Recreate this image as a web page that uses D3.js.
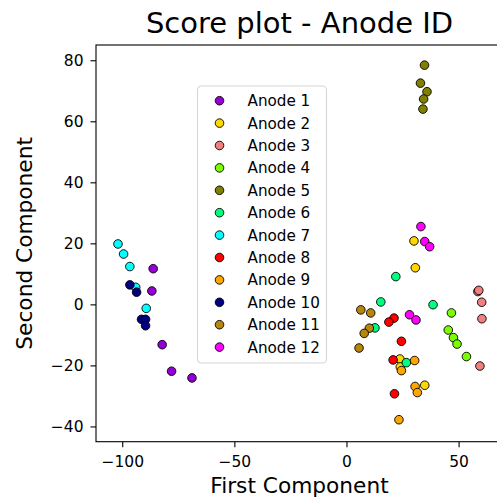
<!DOCTYPE html>
<html>
<head>
<meta charset="utf-8">
<script src="https://cdn.jsdelivr.net/npm/d3@7"></script>
<style>
  body { margin: 0; background: #fff; }
  svg { font-family: "DejaVu Sans", sans-serif; display: block; }
</style>
</head>
<body>
<div id="chart"></div>
<script>
// Anode labels and marker colours
const anodes = ["Anode 1", "Anode 2", "Anode 3", "Anode 4", "Anode 5", "Anode 6",
                "Anode 7", "Anode 8", "Anode 9", "Anode 10", "Anode 11", "Anode 12"];
const colors = ["#9400d3", "#ffd700", "#f08080", "#7cfc00", "#808000", "#00ff7f",
                "#00ffff", "#ff0000", "#ffa500", "#000080", "#b8860b", "#ff00ff"];

// First component scores, one list per anode
const firstComp = [
  [-86.2, -86.8, -82.2, -78.0, -68.9],
  [30.1, 30.7, 23.8, 24.0, 34.9],
  [58.6, 59.0, 60.3, 60.4, 59.5],
  [46.8, 45.4, 47.7, 49.3, 53.5],
  [34.8, 33.0, 35.9, 34.4, 34.1],
  [22.0, 15.3, 38.6, 12.7, 26.7],
  [-101.9, -99.4, -96.6, -94.0, -89.3],
  [21.2, 18.9, 24.5, 20.8, 21.4],
  [30.4, 24.5, 30.6, 31.6, 23.4],
  [-96.6, -93.6, -91.4, -89.6, -89.6],
  [6.4, 10.8, 10.2, 7.9, 5.6],
  [33.2, 34.9, 37.1, 28.1, 31.0]
];
// Second component scores, one list per anode
const secondComp = [
  [11.7, 4.4, -13.2, -21.9, -24.1],
  [20.8, 12.0, -17.9, -20.5, -26.5],
  [4.2, 4.6, 0.7, -4.7, -20.2],
  [-2.8, -8.4, -10.9, -13.0, -17.1],
  [78.4, 72.5, 69.7, 67.3, 64.0],
  [9.1, 0.8, -0.1, -7.7, -19.1],
  [19.8, 16.5, 12.4, 5.6, -1.3],
  [-4.5, -5.8, -12.1, -18.2, -29.3],
  [-18.4, -21.7, -26.9, -28.9, -37.8],
  [6.4, 4.0, -4.9, -4.9, -7.0],
  [-1.8, -2.8, -7.8, -9.5, -14.3],
  [25.5, 20.6, 18.9, -3.4, -5.1]
];
const xTicks = [-100, -50, 0, 50];
const yTicks = [-40, -20, 0, 20, 40, 60, 80];

const width = 497, height = 501;
const mLeft = 96, mRight = 503, mTop = 45, mBottom = 441.7;

const svg = d3.select("#chart").append("svg")
    .attr("width", width)
    .attr("height", height);

const x = d3.scaleLinear().domain([-111.7, 69.8]).range([mLeft, mRight]);
const y = d3.scaleLinear().domain([-45, 85]).range([mBottom, mTop]);

// points
let pts = [];
anodes.forEach((a, i) => {
    firstComp[i].forEach((v, j) => pts.push({x: v, y: secondComp[i][j], c: colors[i]}));
});
svg.append("g").selectAll("circle")
    .data(pts)
    .join("circle")
    .attr("cx", d => x(d.x))
    .attr("cy", d => y(d.y))
    .attr("r", 4.3)
    .attr("fill", d => d.c)
    .attr("stroke", "#000")
    .attr("stroke-width", 0.9);

// axes
let minus = d => d3.format("")(d).replace("-", "\u2212");
let xAxis = svg.append("g")
    .attr("transform", `translate(0,${mBottom})`)
    .call(d3.axisBottom(x).tickValues(xTicks).tickSize(5.5).tickPadding(9).tickFormat(minus));
let yAxis = svg.append("g")
    .attr("transform", `translate(${mLeft},0)`)
    .call(d3.axisLeft(y).tickValues(yTicks).tickSize(5.5).tickPadding(7).tickFormat(minus));
[xAxis, yAxis].forEach(g => {
    g.selectAll("text").attr("font-size", "15.5px").attr("fill", "#000")
        .attr("font-family", "DejaVu Sans");
    g.selectAll("line").attr("stroke", "#000").attr("stroke-width", 1.1);
    g.select(".domain").remove();
});

// spines (right one falls outside the picture)
svg.append("rect")
    .attr("x", mLeft)
    .attr("y", mTop)
    .attr("width", mRight - mLeft)
    .attr("height", mBottom - mTop)
    .attr("fill", "none")
    .attr("stroke", "#000")
    .attr("stroke-width", 1.1);

// title and axis labels
svg.append("text")
    .attr("x", (mLeft + mRight) / 2)
    .attr("y", 33)
    .attr("text-anchor", "middle")
    .attr("font-size", "29px")
    .text("Score plot - Anode ID");
svg.append("text")
    .attr("x", (mLeft + mRight) / 2)
    .attr("y", 493)
    .attr("text-anchor", "middle")
    .attr("font-size", "21.7px")
    .text("First Component");
svg.append("text")
    .attr("transform", `translate(32,${(mTop + mBottom) / 2}) rotate(-90)`)
    .attr("text-anchor", "middle")
    .attr("font-size", "21.7px")
    .text("Second Component");

// legend
const rowH = 22.4;
let legend = svg.append("g").attr("transform", "translate(197.5,86)");
legend.append("rect")
    .attr("width", 129)
    .attr("height", 277)
    .attr("rx", 4)
    .attr("fill", "#fff")
    .attr("fill-opacity", 0.8)
    .attr("stroke", "#d6d6d6")
    .attr("stroke-width", 1.1);
let rows = legend.selectAll("g.row")
    .data(anodes)
    .join("g")
    .attr("class", "row")
    .attr("transform", (d, i) => `translate(0,${14.7 + i * rowH})`);
rows.append("circle")
    .attr("cx", 22)
    .attr("r", 4.3)
    .attr("fill", (d, i) => colors[i])
    .attr("stroke", "#000")
    .attr("stroke-width", 0.9);
rows.append("text")
    .attr("x", 50)
    .attr("dy", "0.36em")
    .attr("font-size", "15.2px")
    .text(d => d);
</script>
</body>
</html>
